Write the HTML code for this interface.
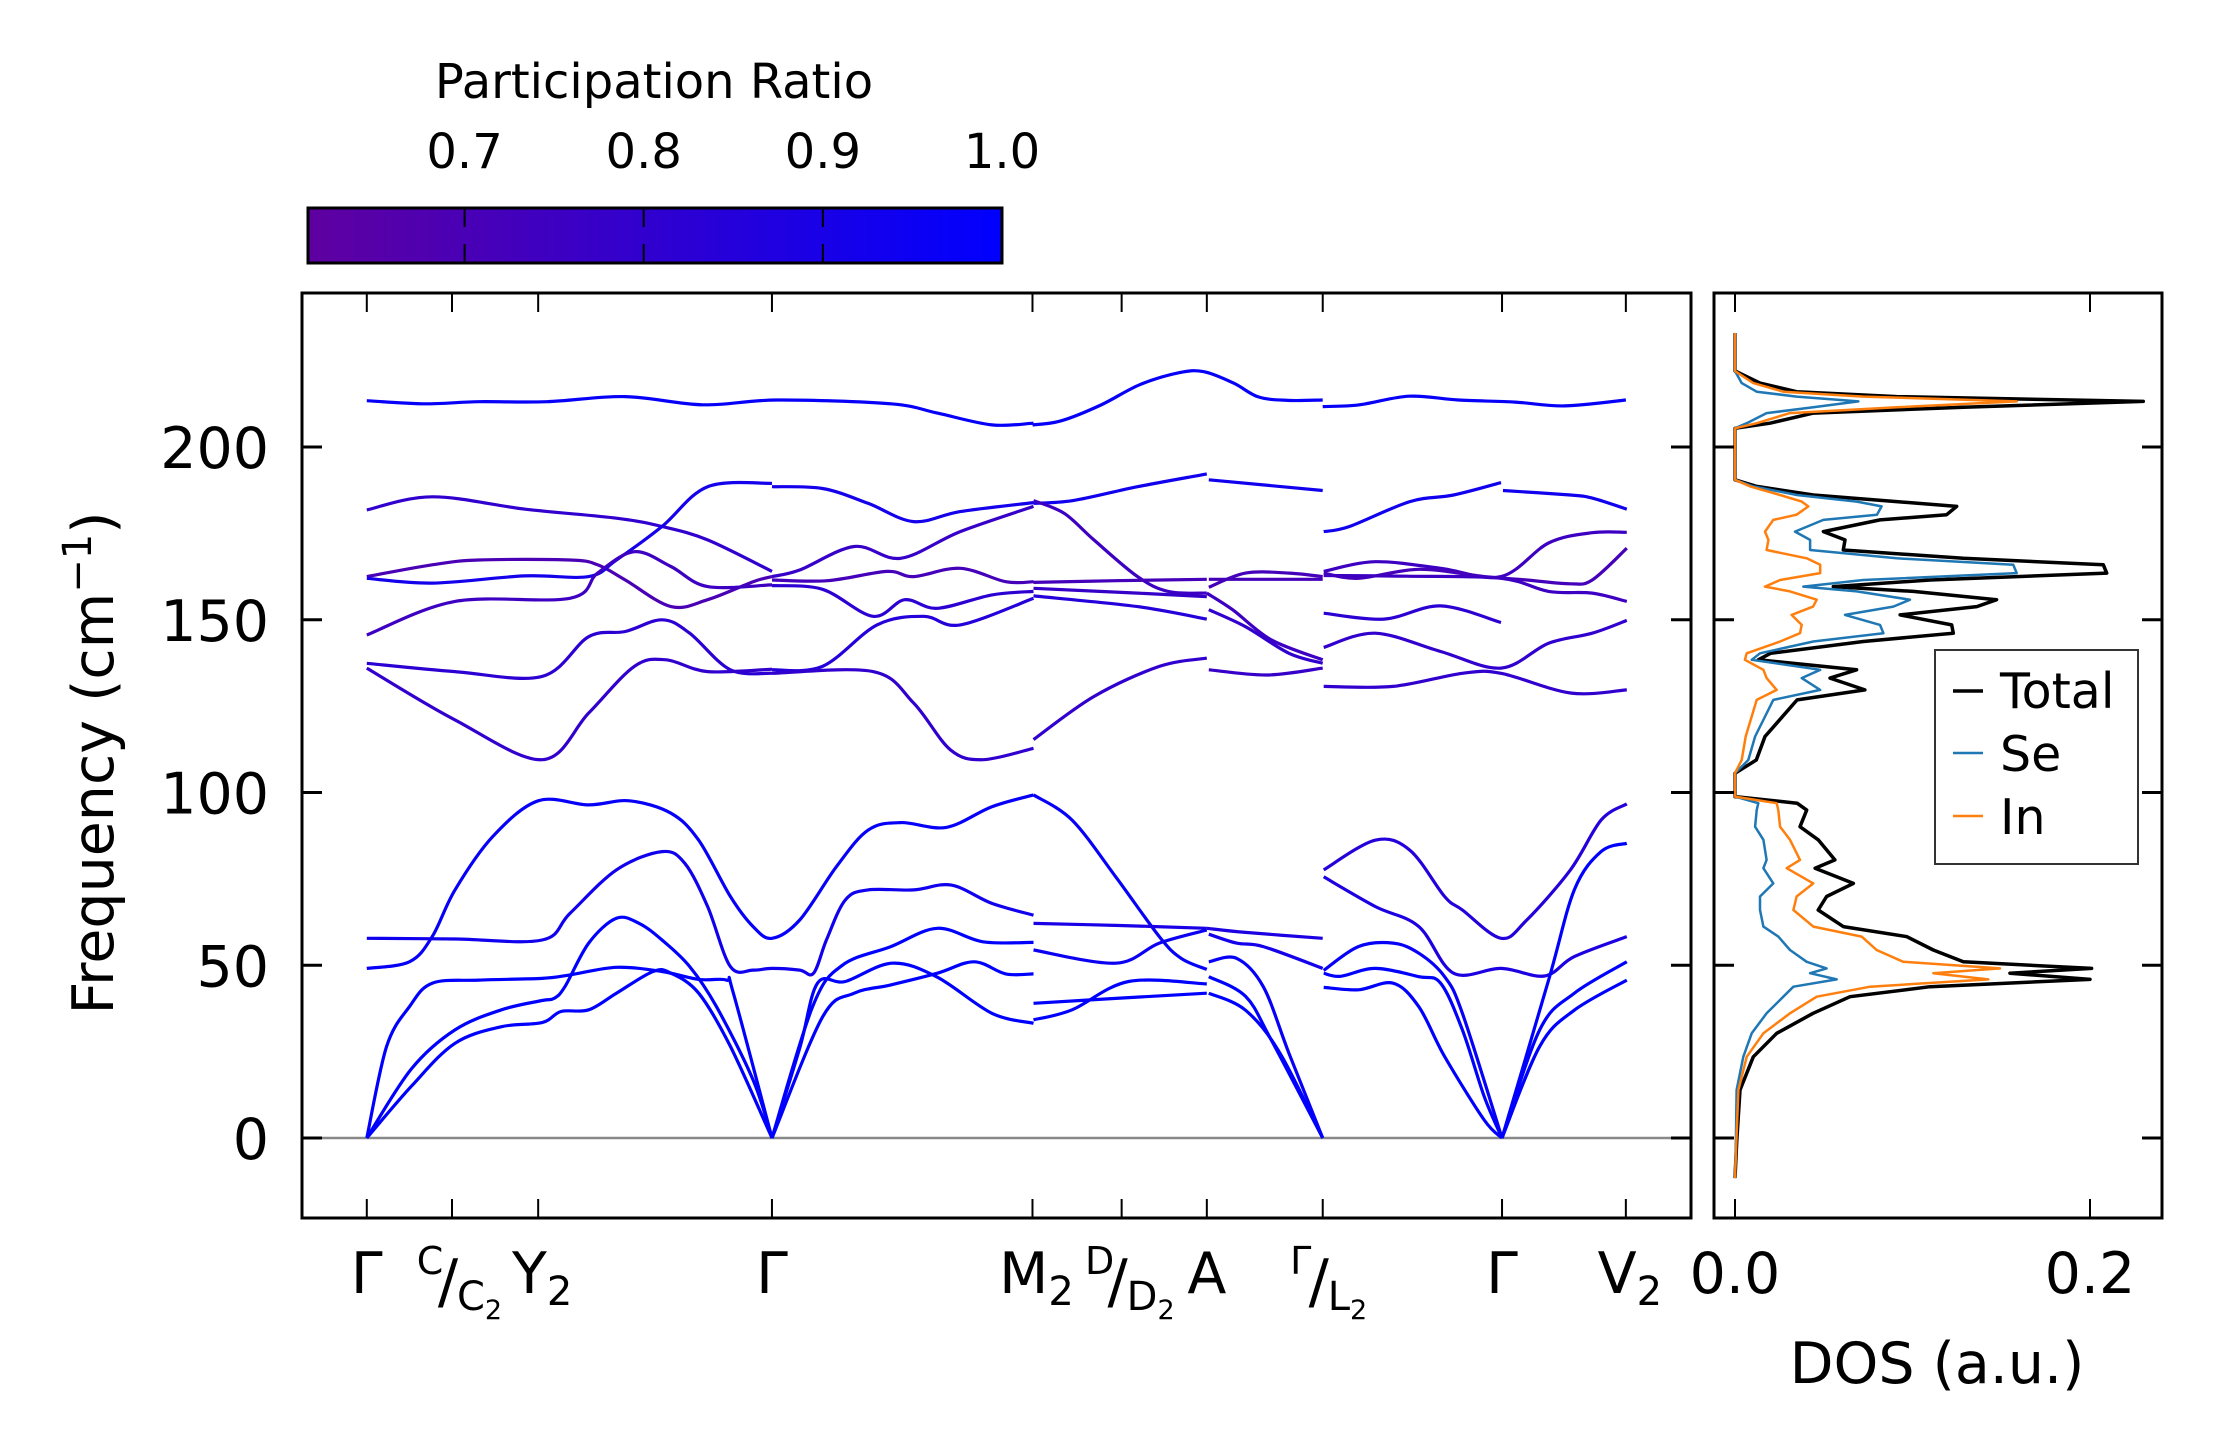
<!DOCTYPE html>
<html><head><meta charset="utf-8"><style>
html,body{margin:0;padding:0;background:#fff;}
svg{display:block;font-family:"DejaVu Sans","Liberation Sans",sans-serif;}
</style></head><body>
<svg id="fig" width="2222" height="1455" viewBox="0 0 2222 1455" xmlns="http://www.w3.org/2000/svg">
<defs>
<linearGradient id="prgrad" x1="0" x2="1" y1="0" y2="0">
<stop offset="0" stop-color="rgb(95,0,160)"/><stop offset="1" stop-color="rgb(0,0,255)"/>
</linearGradient>
</defs>
<g>
<text x="654" y="98" font-size="48" text-anchor="middle">Participation Ratio</text>
<rect x="308" y="208" width="694" height="55" fill="url(#prgrad)" stroke="#000" stroke-width="3"/>
<g id="cbticks"></g>
</g>
<g id="main">
<line x1="302" x2="1691" y1="1138" y2="1138" stroke="#888" stroke-width="2.5"/>
<g id="bands"></g>
<rect x="302" y="293" width="1389" height="925" fill="none" stroke="#000" stroke-width="3"/>
<g id="mainticks"></g>
<text transform="translate(113,763) rotate(-90)" font-size="57" text-anchor="middle">Frequency (cm<tspan font-size="40" dy="-22">−1</tspan><tspan dy="22">)</tspan></text>
</g>
<g id="dos">
<g id="doslines"></g>
<rect x="1714" y="293" width="448" height="925" fill="none" stroke="#000" stroke-width="3"/>
<g id="dosticks"></g>
<text x="1937" y="1383" font-size="57" text-anchor="middle">DOS (a.u.)</text>
<g>
<rect x="1935" y="650" width="203" height="214" fill="#fff" stroke="#333" stroke-width="2"/>
<line x1="1953" x2="1983" y1="691" y2="691" stroke="#000" stroke-width="3.5"/>
<text x="2000" y="708" font-size="49">Total</text>
<line x1="1953" x2="1983" y1="753" y2="753" stroke="#1f77b4" stroke-width="2.5"/>
<text x="2000" y="771" font-size="49">Se</text>
<line x1="1953" x2="1983" y1="816" y2="816" stroke="#ff7f0e" stroke-width="2.5"/>
<text x="2000" y="834" font-size="49">In</text>
</g>
</g>
</svg>
<script>
// ---------- data ----------
const yTicks = [0, 50, 100, 150, 200];
const kTicks = [0, 0.86, 1.73, 4.09, 6.72, 7.62, 8.48, 9.65, 11.46, 12.71];
const cbTicks = [0.7, 0.8, 0.9, 1.0];
const dosTicks = [0.0, 0.2];

// bands: [k, frequency]
const s1A = [[0,49.1],[0.43,51],[0.66,58.3],[0.89,71.8],[1.27,87.2],[1.73,97.6],[2.24,96.4],[2.65,97.6],[3.07,94],[3.35,86.2],[3.67,69.9],[3.9,61.2],[4.09,57.8],[4.37,63.1],[4.74,78.5],[5.06,89.1],[5.39,91.3],[5.85,89.9],[6.31,95.9],[6.73,99.3]];
const s1B = [[0,57.8],[0.9,57.6],[1.77,57.3],[2.05,65],[2.52,77.6],[2.98,82.9],[3.21,79.5],[3.44,67],[3.67,49.6],[3.9,48.6],[4.09,49.1],[4.37,48.6],[4.51,47.7],[4.64,57.3],[4.83,68.9],[5.06,71.8],[5.52,71.8],[5.9,73.2],[6.31,67.9],[6.73,64.5]];
const s1C = [[0,0],[0.2,26.5],[0.43,38],[0.66,44.8],[1.13,45.7],[1.77,46.2],[2.05,47.2],[2.52,49.4],[2.98,48.2],[3.35,45.9],[3.63,45.7],[3.7,42],[4.09,0]];
const s1D = [[0,0],[0.45,20],[0.89,31.3],[1.36,37.1],[1.77,39.8],[1.89,40.4],[2.0,43.8],[2.24,56.4],[2.52,63.6],[2.75,62.1],[2.98,57.3],[3.26,49.6],[3.53,38],[3.9,16.8],[4.09,0]];
const s1E = [[0,0],[0.45,15],[0.89,27.4],[1.36,32.2],[1.77,33.4],[1.96,36.6],[2.24,37.1],[2.52,41.9],[2.89,48.2],[3.07,47.7],[3.35,41.9],[3.67,26.5],[4.09,0]];
const s1C2 = [[4.09,0],[4.37,26],[4.55,44.8],[4.83,45.3],[5.3,50.6],[5.75,46.7],[6.31,36.1],[6.73,33.2]];
const s1D2 = [[4.09,0],[4.6,35],[4.92,41.9],[5.29,44.3],[5.76,47.7],[6.13,51],[6.45,47.5],[6.73,47.5]];
const s1E2 = [[4.09,0],[4.5,38],[4.8,50],[5.29,55.4],[5.76,60.7],[6.22,56.8],[6.73,56.6]];
const s2a = [[6.73,99.3],[7.12,92],[7.56,75.6],[8.0,58.3],[8.22,52],[8.48,48.8]];
const s2b = [[6.73,62.1],[7.6,61.5],[8.48,60.7]];
const s2c = [[6.73,54.4],[7.56,50.6],[8.0,56.4],[8.48,60.2]];
const s2d = [[6.73,39],[7.56,40.4],[8.48,41.9]];
const s2e = [[6.73,34.2],[7.12,37.1],[7.69,45.3],[8.48,44.6]];
const s3a = [[8.48,60.7],[8.87,59.5],[9.65,57.8]];
const s3b = [[8.5,51],[8.78,52],[9.05,43.8],[9.31,24.5],[9.65,0]];
const s3c = [[8.5,46.7],[8.87,41],[9.13,28.4],[9.65,0]];
const s3d = [[8.5,41.9],[8.87,37],[9.22,24.5],[9.65,0]];
const s3e = [[8.5,59],[8.78,56.4],[9.05,55.4],[9.65,49.1]];
const s4a = [[9.66,77.6],[10.18,86.2],[10.53,83.3],[10.88,69.9],[11.06,66],[11.45,57.8],[11.71,63.1],[12.15,77.6],[12.46,92],[12.72,96.7]];
const s4b = [[9.66,75.6],[10.18,67],[10.62,61.2],[10.97,47.7],[11.45,49.1],[11.89,46.9],[12.19,52.5],[12.72,58.3]];
const s4c = [[9.66,47.7],[9.83,46.8],[10.18,49.1],[10.62,46.7],[10.84,44.8],[11.06,31.3],[11.28,12],[11.46,0]];
const s4d = [[9.66,48.5],[10.01,55.4],[10.36,56.4],[10.62,53.5],[10.88,46.7],[11.06,36.1],[11.46,0]];
const s4e = [[9.66,43.6],[10.01,42.9],[10.36,44.8],[10.62,38],[10.88,23.6],[11.28,5.2],[11.46,0]];
const s4f = [[11.46,0],[11.93,45.7],[12.19,71.8],[12.46,82.9],[12.72,85.3]];
const s4g = [[11.46,0],[11.84,31.3],[12.19,41.9],[12.72,51]];
const s4h = [[11.46,0],[11.84,26.5],[12.19,37],[12.72,45.7]];
const H1 = [[0,213.4],[0.57,212.5],[1.13,213.1],[1.82,213.1],[2.61,214.6],[3.39,212.2],[4.14,213.6],[5.29,212.5],[5.76,209.8],[6.31,206.4],[6.73,206.9]];
const L1 = [[0,181.8],[0.66,185.6],[1.6,182],[2.52,179.4],[2.98,177],[3.44,173.1],[4.09,164]];
const L2 = [[0,162.5],[0.66,165.9],[1.13,167.3],[2.05,167.3],[2.33,165.9],[2.61,161.5],[3.07,153.8],[3.44,155.8],[3.9,161],[4.09,162.5]];
const L3 = [[0,162],[0.66,160.6],[1.59,162.7],[2.24,162.5],[2.52,167.3],[2.98,177],[3.44,188.5],[4.09,189.5]];
const L4 = [[0,145.6],[0.89,155.3],[2.05,156.2],[2.33,163.5],[2.7,169.7],[3.07,165.4],[3.44,159.6],[4.09,160.1]];
const L5 = [[0,137.4],[0.89,135],[1.77,133.6],[2.24,145.1],[2.61,146.6],[2.98,150],[3.26,146.1],[3.67,135.5],[4.09,134.5]];
const L6 = [[0,136],[0.89,121],[1.77,109.5],[2.24,123],[2.7,136.5],[3.02,138.4],[3.44,135],[4.09,135.7]];
const R1 = [[4.09,188.5],[4.6,188],[5.06,183.7],[5.52,178.4],[5.99,181.3],[6.73,183.9]];
const R2 = [[4.09,162.5],[4.37,164.4],[4.92,171.2],[5.39,167.8],[5.99,175.5],[6.73,182.8]];
const R3 = [[4.09,161.5],[4.65,161.3],[5.25,164],[5.52,162.5],[5.99,164.9],[6.45,161],[6.73,161]];
const R4 = [[4.09,159.9],[4.6,158.8],[5.11,151],[5.43,155.8],[5.76,153.3],[6.31,157.2],[6.73,158.2]];
const R5 = [[4.09,135.5],[4.6,136.5],[5.15,148.5],[5.62,151],[5.99,148.5],[6.73,156.2]];
const R6 = [[4.09,134.5],[5.11,135],[5.52,125.9],[5.89,112.4],[6.22,109.5],[6.73,112.8]];
const T2 = [[6.72,206.4],[7.0,207.5],[7.4,212],[7.8,218],[8.2,221.5],[8.45,221.8],[8.75,218.5],[9.0,214.5],[9.3,213.5],[9.65,213.6]];
const s2h1 = [[6.73,183.7],[7.13,184.5],[7.78,188.5],[8.48,192.2]];
const s2h2 = [[6.73,184.5],[7.04,180.8],[7.34,173.1],[7.78,162.5],[8.09,158.2],[8.48,157.7]];
const s2h3 = [[6.73,160.8],[7.56,161.3],[8.48,161.7]];
const s2h4 = [[6.73,159.1],[7.78,157.7],[8.48,156.7]];
const s2h5 = [[6.73,156.9],[7.78,153.8],[8.48,150.2]];
const s2h6 = [[6.73,115.3],[7.34,127.8],[8.0,136.5],[8.48,138.9]];
const s3h1 = [[8.5,190.5],[9.65,187.4]];
const s3h2 = [[8.48,157.7],[8.74,152.9],[9.13,144.2],[9.65,138.4]];
const s3h3 = [[8.5,161.7],[9.65,161.7]];
const s3h4 = [[8.5,159.4],[8.87,163.5],[9.31,163.5],[9.65,162.5]];
const s3h5 = [[8.5,152.9],[8.87,148],[9.31,140.3],[9.65,137.4]];
const s3h6 = [[8.5,135.5],[9.09,134],[9.65,136]];
const s4h0 = [[9.65,211.7],[10.02,212.2],[10.52,214.7],[11.02,213.6],[11.59,213],[12.09,211.9],[12.71,213.6]];
const s4h1 = [[9.66,175.5],[9.92,177],[10.53,184.2],[10.97,186.1],[11.45,189.7]];
const s4h1b = [[11.47,187.4],[12.15,186.1],[12.37,185.2],[12.72,182]];
const s4h2 = [[9.66,164],[10.18,166.8],[10.84,164.9],[11.45,162.5],[11.93,172.2],[12.37,175.2],[12.72,175.3]];
const s4h3 = [[9.66,163.5],[10.01,162],[10.62,164.6],[11.28,162.5],[11.71,161.5],[12.15,160.4],[12.37,161.5],[12.72,170.7]];
const s4h4 = [[9.66,162.8],[10.5,162.6],[11.45,162],[11.93,158.2],[12.37,157.7],[12.72,155.3]];
const s4h5 = [[9.66,151.9],[10.27,150.2],[10.84,154],[11.45,149.2]];
const s4h6 = [[9.66,142],[10.18,146.1],[10.84,140.8],[11.45,136],[11.93,143.2],[12.37,146.1],[12.72,149.8]];
const s4h7 = [[9.66,130.7],[10.36,130.7],[11.06,134.5],[11.45,134.5],[12.15,128.8],[12.72,129.7]];

const bandList = [s1A,s1B,s1C,s1D,s1E,s1C2,s1D2,s1E2,s2a,s2b,s2c,s2d,s2e,s3a,s3b,s3c,s3d,s3e,s4a,s4b,s4c,s4d,s4e,s4f,s4g,s4h,H1,L1,L2,L3,L4,L5,L6,R1,R2,R3,R4,R5,R6,T2,s2h1,s2h2,s2h3,s2h4,s2h5,s2h6,s3h1,s3h2,s3h3,s3h4,s3h5,s3h6,s4h0,s4h1,s4h1b,s4h2,s4h3,s4h4,s4h5,s4h6,s4h7];
const bandPR = [0.97,0.93,1,1,1,1,1,1,0.97,0.9,0.95,1,1,0.88,0.97,1,1,0.92,0.85,0.88,1,0.97,1,1,1,1,0.97,0.8,0.7,0.92,0.75,0.82,0.8,0.92,0.78,0.72,0.82,0.85,0.8,0.97,0.93,0.75,0.72,0.78,0.85,0.8,0.93,0.75,0.72,0.72,0.8,0.78,0.97,0.93,0.93,0.75,0.72,0.75,0.82,0.8,0.8];

// DOS
const dosFreq = [233,222,218.5,216,214.6,213.2,211.5,209.8,206.9,205.4,190.5,188.6,186.1,184.2,182.8,180.4,178.9,175.5,173.1,170.2,167.8,165.9,163.5,161.5,159.6,158.2,155.8,153.8,151.4,148.5,146.1,143.7,140.3,138.4,135.5,133.1,129.7,126.8,116.2,109.4,105.6,98.8,96.9,94.9,90.1,86.3,80.5,78.1,73.7,69.9,66,61.2,58.3,54.4,51,49.1,47.7,45.9,43.8,40.9,36.1,30.3,23.5,13.9,-0.6,-11.6];
const dosTotal = [0,0,.0141,.0347,.0911,.230,.1286,.0441,.0197,0,0,.0122,.0441,.0911,.1249,.1192,.0817,.0498,.062,.061,.1286,.2075,.2094,.1099,.0554,.1005,.1474,.1362,.093,.1221,.123,.0723,.02,.0131,.0685,.0535,.0732,.035,.0169,.012,0,0,.035,.0404,.0366,.0469,.0563,.0451,.0667,.0516,.0469,.061,.0967,.1117,.1286,.2009,.1549,.2,.1099,.0648,.044,.0235,.0103,.0028,.001,0];
const dosSe = [0,0,.0038,.0122,.0347,.0695,.0441,.0178,.0066,0,0,.0103,.0348,.0686,.0826,.08,.0498,.0338,.0423,.0423,.0911,.1568,.1587,.0723,.0385,.0686,.0986,.0892,.062,.0817,.0836,.0441,.0141,.0094,.048,.0376,.048,.0216,.0113,.0075,0,0,.0131,.0122,.0113,.016,.0178,.016,.0216,.0141,.0141,.016,.0244,.031,.0404,.0516,.0423,.0573,.0329,.0272,.0178,.0094,.0047,.0009,.0005,0];
const dosIn = [0,0,.0103,.0272,.0723,.1587,.0911,.031,.0122,0,0,.0085,.0254,.0376,.0413,.0347,.0216,.0169,.0188,.0178,.0404,.048,.048,.0254,.0169,.031,.046,.044,.0319,.0376,.0366,.0254,.0066,.0056,.016,.0178,.0235,.0122,.006,.0038,0,0,.0235,.0244,.0254,.031,.0366,.0291,.0441,.0347,.0329,.0441,.0714,.0798,.0948,.1493,.1117,.1427,.0761,.046,.031,.016,.0066,.0019,.0008,0];

// ---------- scales ----------
const NS = "http://www.w3.org/2000/svg";
const xk = k => 366.8 + k * 99.06;
const yf = f => 1138 - 3.455 * f;
const xd = v => 1735 + v * 1775;
const xcb = p => 308 + (p - 0.6126) / (1 - 0.6126) * 694;
function prColor(p) {
  const t = Math.max(0, Math.min(1, (p - 0.6126) / (1 - 0.6126)));
  return `rgb(${Math.round(95 * (1 - t))},0,${Math.round(160 + 95 * t)})`;
}
function mk(tag, attrs, parent) {
  const el = document.createElementNS(NS, tag);
  for (const a in attrs) el.setAttribute(a, attrs[a]);
  parent.appendChild(el);
  return el;
}
function smoothPath(pts) {
  let d = `M${pts[0][0].toFixed(1)},${pts[0][1].toFixed(1)}`;
  for (let i = 0; i < pts.length - 1; i++) {
    const p0 = pts[Math.max(0, i - 1)], p1 = pts[i], p2 = pts[i + 1], p3 = pts[Math.min(pts.length - 1, i + 2)];
    const c1 = [p1[0] + (p2[0] - p0[0]) / 6, p1[1] + (p2[1] - p0[1]) / 6];
    const c2 = [p2[0] - (p3[0] - p1[0]) / 6, p2[1] - (p3[1] - p1[1]) / 6];
    d += `C${c1[0].toFixed(1)},${c1[1].toFixed(1)} ${c2[0].toFixed(1)},${c2[1].toFixed(1)} ${p2[0].toFixed(1)},${p2[1].toFixed(1)}`;
  }
  return d;
}

// ---------- bands ----------
const gb = document.getElementById('bands');
bandList.forEach((b, i) => {
  const pts = b.map(p => [xk(p[0]), yf(p[1])]);
  const el = mk('path', {d: smoothPath(pts), fill: 'none', stroke: prColor(bandPR[i]), 'stroke-width': 3.2, 'stroke-linecap': 'butt'}, gb);
  
  
});

// ---------- main ticks ----------
const gt = document.getElementById('mainticks');
yTicks.forEach(v => {
  const y = yf(v);
  const l1 = mk('line', {x1: 302, x2: 322, y1: y, y2: y, stroke: '#000', 'stroke-width': 3}, gt);
  
  
  const l2 = mk('line', {x1: 1671, x2: 1691, y1: y, y2: y, stroke: '#000', 'stroke-width': 3}, gt);
  
  
  const t = mk('text', {x: 269, y: y + 21, 'font-size': 57, 'text-anchor': 'end'}, gt);
  t.textContent = String(v);
  
  
});
kTicks.forEach(k => {
  const x = xk(k);
  const a = mk('line', {x1: x, x2: x, y1: 1218, y2: 1199, stroke: '#000', 'stroke-width': 2}, gt);
  
  
  const b = mk('line', {x1: x, x2: x, y1: 293, y2: 312, stroke: '#000', 'stroke-width': 2}, gt);
  
  
});
function simpleLabel(x, main, sub, name) {
  const t = mk('text', {x: x, y: 1293, 'font-size': 57, 'text-anchor': 'middle'}, gt);
  
  
  t.appendChild(document.createTextNode(main));
  if (sub) {
    const s = document.createElementNS(NS, 'tspan');
    s.setAttribute('font-size', '40'); s.setAttribute('dy', '12');
    s.textContent = sub; t.appendChild(s);
  }
}
function fracLabel(x, top, bot, name) {
  const g = mk('g', {}, gt);
  
  
  const a = mk('text', {x: x - 22, y: 1274, 'font-size': 38, 'text-anchor': 'middle'}, g);
  a.textContent = top;
  const s = mk('text', {x: x - 4, y: 1302, 'font-size': 60, 'text-anchor': 'middle'}, g);
  s.textContent = '/';
  const b = mk('text', {x: x + 5, y: 1310, 'font-size': 40}, g);
  b.appendChild(document.createTextNode(bot));
  const sp = document.createElementNS(NS, 'tspan');
  sp.setAttribute('font-size', '27'); sp.setAttribute('dy', '9');
  sp.textContent = '2'; b.appendChild(sp);
}
simpleLabel(xk(kTicks[0]), 'Γ', '', 'x-label-gamma');
fracLabel(xk(kTicks[1]), 'C', 'C', 'x-label-c-c2');
simpleLabel(xk(kTicks[2]) + 4, 'Y', '2', 'x-label-y2');
simpleLabel(xk(kTicks[3]), 'Γ', '', 'x-label-gamma');
simpleLabel(xk(kTicks[4]) + 4, 'M', '2', 'x-label-m2');
fracLabel(xk(kTicks[5]), 'D', 'D', 'x-label-d-d2');
simpleLabel(xk(kTicks[6]), 'A', '', 'x-label-a');
fracLabel(xk(kTicks[7]), 'Γ', 'L', 'x-label-gamma-l2');
simpleLabel(xk(kTicks[8]), 'Γ', '', 'x-label-gamma');
simpleLabel(xk(kTicks[9]) + 4, 'V', '2', 'x-label-v2');

// ---------- colorbar ticks ----------
const gc = document.getElementById('cbticks');
cbTicks.forEach(p => {
  const x = xcb(p);
  if (p < 0.999) {
    const a = mk('line', {x1: x, x2: x, y1: 209, y2: 227, stroke: '#000', 'stroke-width': 2}, gc);
    
    
    const b = mk('line', {x1: x, x2: x, y1: 244, y2: 262, stroke: '#000', 'stroke-width': 2}, gc);
    
    
  }
  const t = mk('text', {x: x, y: 168, 'font-size': 48, 'text-anchor': 'middle'}, gc);
  t.textContent = p.toFixed(1);
  
  
});

// ---------- DOS ----------
const gd = document.getElementById('doslines');
function dosLine(vals, color, w, name) {
  const d = vals.map((v, i) => (i ? 'L' : 'M') + xd(v).toFixed(1) + ',' + yf(dosFreq[i]).toFixed(1)).join('');
  const el = mk('path', {d: d, fill: 'none', stroke: color, 'stroke-width': w, 'stroke-linejoin': 'round'}, gd);
  
  
}
dosLine(dosTotal, '#000', 3.5, 'dos-total-line');
dosLine(dosSe, '#1f77b4', 2.5, 'dos-se-line');
dosLine(dosIn, '#ff7f0e', 2.5, 'dos-in-line');
const gdt = document.getElementById('dosticks');
yTicks.forEach(v => {
  const y = yf(v);
  const a = mk('line', {x1: 1714, x2: 1734, y1: y, y2: y, stroke: '#000', 'stroke-width': 3}, gdt);
  
  
  const b = mk('line', {x1: 2142, x2: 2162, y1: y, y2: y, stroke: '#000', 'stroke-width': 3}, gdt);
  
  
});
dosTicks.forEach(v => {
  const x = xd(v);
  const a = mk('line', {x1: x, x2: x, y1: 1218, y2: 1199, stroke: '#000', 'stroke-width': 2}, gdt);
  
  
  const b = mk('line', {x1: x, x2: x, y1: 293, y2: 312, stroke: '#000', 'stroke-width': 2}, gdt);
  
  
  const t = mk('text', {x: x, y: 1293, 'font-size': 57, 'text-anchor': 'middle'}, gdt);
  t.textContent = v.toFixed(1);
  
  
});
</script>
</body></html>
